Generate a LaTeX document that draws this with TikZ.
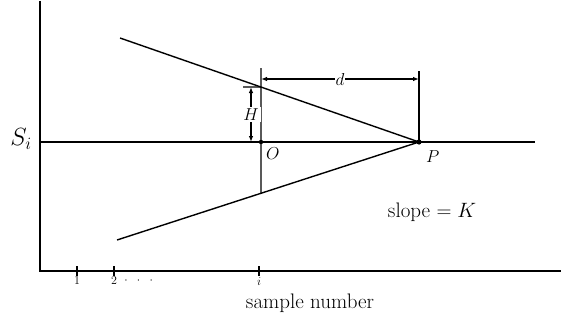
\documentclass[tikz,border=0pt]{standalone}
\usepackage{amsmath}
\usetikzlibrary{arrows.meta, positioning, calc}

\begin{document}
\begin{tikzpicture}[
  x=1pt, y=-1pt,
  axis/.style={line width=1.9pt},
  edge/.style={line width=1.4pt},
  dim/.style={line width=1.1pt, {Latex[length=6pt,width=4.5pt]}-{Latex[length=6pt,width=4.5pt]}},
  lbl/.style={font=\fontsize{17}{20}\selectfont, inner sep=1pt},
  tick/.style={font=\fontsize{13}{15}\selectfont, inner sep=1pt},
  txt/.style={font=\fontsize{21}{24}\selectfont, inner sep=1pt}
]
\useasboundingbox (0,0) rectangle (561,321);

% axes
\coordinate (ytop) at (40,1);
\coordinate (orig) at (40,271);
\coordinate (xend) at (561,271);
\draw[axis] (ytop) -- (orig) -- (xend);

% level S_i and the points O, P
\coordinate (sl) at (40,142);
\coordinate (sr) at (535,142);
\coordinate (O) at (261,142);
\coordinate (P) at (419,142);
\draw[edge] (sl) -- (sr);
\node[lbl, font=\fontsize{24}{28}\selectfont] (si) at (21,139) {$S_i$};

% the two arms of the mask
\coordinate (ta) at (120,38);
\coordinate (ba) at (117,240);
\draw[edge] (ta) -- (P) -- (ba);
\coordinate (Ot) at ($(ta)!0.4716!(P)$);
\coordinate (Ob) at ($(ba)!0.4768!(P)$);
\fill (O) circle (2.2pt);
\fill (P) circle (2.6pt);
\node[lbl, anchor=north west] (Olab) at ($(O)+(4,4)$) {$O$};
\node[lbl, anchor=north west] (Plab) at ($(P)+(6,7)$) {$P$};

% verticals through O and P
\coordinate (Otop) at (261,68);
\coordinate (Ptop) at (419,71);
\draw[edge] (Otop) -- (Ob);
\draw[edge] (Ptop) -- (P);

% d
\coordinate (dl) at (261,79);
\coordinate (dr) at (419,79);
\draw[dim] (dl) -- node[lbl, fill=white] (d) {$d$} (dr);

% H
\coordinate (Hx) at (243,87);
\coordinate (Ht) at (251,87);
\coordinate (Hb) at (251,142);
\draw[edge] (Hx) -- (Ot);
\draw[dim] (Ht) -- node[lbl, fill=white, inner sep=2pt] (H) {$H$} (Hb);

\node[txt] (slope) at (432,212) {slope $=K$};

% sample axis
\foreach \x/\t/\n in {77/1/n1, 114/2/n2, 259/i/ni}{
  \draw[edge] (\x,266) -- (\x,276);
  \node[tick, anchor=north] (\n) at (\x,276) {$\t$};
}
\node[tick, right=5pt of n2] (dots) {$\cdot\;\;\cdot\;\;\cdot$};
\node[txt] (xlab) at (310,303) {sample number};
\end{tikzpicture}
\end{document}
